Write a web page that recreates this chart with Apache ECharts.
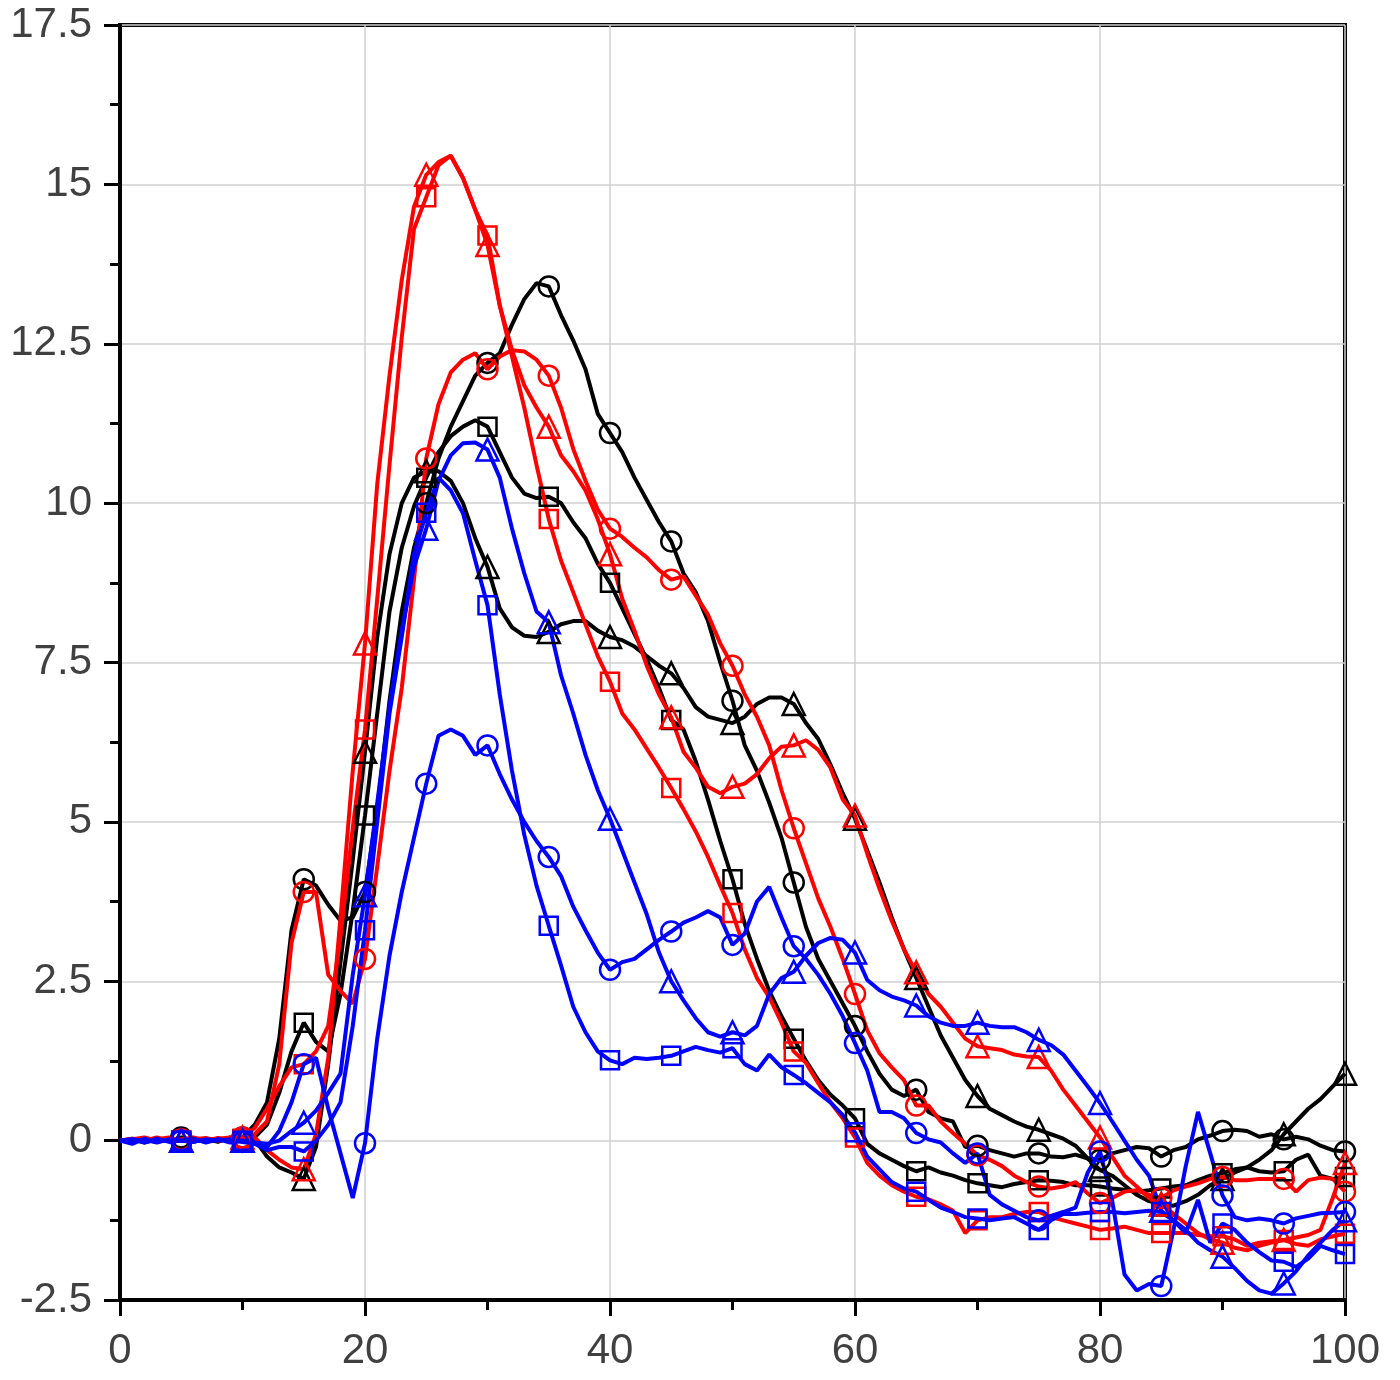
<!DOCTYPE html>
<html><head><meta charset="utf-8">
<script src="https://cdn.jsdelivr.net/npm/echarts@6/dist/echarts.min.js"></script>
<style>html,body{margin:0;padding:0;background:#fff}#c{width:1400px;height:1380px}</style>
</head><body><div id="c"></div>
<script>
// x positions (0..100, step 1) and marker spacing
const xValues = Array.from({length: 101}, (_, i) => i);
const markerStep = 5;

const blackCircle = [
  0, 0.02, -0.03, 0.02, 0, 0.05, 0, 0.03, -0.02, 0.05,
  0.05, 0.25, 0.6, 1.6, 3.3, 4.1, 4.0, 3.7, 3.45, 3.5,
  3.9, 5.2, 6.9, 8.3, 9.3, 10.0, 10.7, 11.2, 11.6, 12.0,
  12.2, 12.35, 12.8, 13.2, 13.45, 13.4, 12.95, 12.55, 12.1, 11.4,
  11.1, 10.8, 10.4, 10.05, 9.7, 9.4, 8.9, 8.6, 8.15, 7.5,
  6.9, 6.2, 5.8, 5.3, 4.75, 4.05, 3.35, 2.85, 2.5, 2.15,
  1.8, 1.4, 1.05, 0.8, 0.7, 0.8, 0.45, 0.35, 0.3, -0.1,
  -0.08, -0.15, -0.2, -0.25, -0.2, -0.2, -0.25, -0.26, -0.22, -0.28,
  -0.3, -0.2, -0.15, -0.1, -0.12, -0.25, -0.15, -0.1, 0.02, 0.08,
  0.15, 0.17, 0.15, 0.06, 0.1, 0.02, 0.06, 0.02, -0.08, -0.15, -0.17
];
const blackSquare = [
  0, 0, 0.03, -0.02, 0.02, 0, 0.02, 0, 0.03, 0,
  0.02, 0.05, 0.25, 0.75, 1.4, 1.85, 1.55, 1.4, 2.3, 3.6,
  5.1, 6.7, 8.3, 9.3, 9.95, 10.4, 10.8, 11.05, 11.2, 11.3,
  11.2, 10.8, 10.4, 10.15, 10.08, 10.1, 10.0, 9.7, 9.45, 9.05,
  8.75, 8.35, 7.95, 7.55, 7.1, 6.6, 6.45, 5.95, 5.35, 4.7,
  4.1, 3.4, 2.85, 2.35, 1.95, 1.6, 1.25, 0.95, 0.72, 0.55,
  0.35, -0.05, -0.2, -0.3, -0.4, -0.48, -0.42, -0.5, -0.55, -0.62,
  -0.67, -0.7, -0.73, -0.68, -0.65, -0.62, -0.63, -0.65, -0.7, -0.7,
  -0.72, -0.75, -0.77, -0.8, -0.78, -0.75, -0.72, -0.7, -0.62, -0.55,
  -0.51, -0.45, -0.42, -0.48, -0.5, -0.48, -0.3, -0.22, -0.55, -0.6, -0.57
];
const blackTriangle = [
  0, -0.02, 0.02, 0, 0.03, 0, -0.02, 0.02, 0, 0.02,
  0, 0.02, -0.25, -0.42, -0.5, -0.6, -0.1, 1.2, 2.8, 4.4,
  6.1, 7.9, 9.2, 10.0, 10.4, 10.5, 10.5, 10.35, 10.0, 9.45,
  9.0, 8.35, 8.05, 7.92, 7.9, 7.98, 8.1, 8.15, 8.15, 8.0,
  7.9, 7.85, 7.75, 7.6, 7.45, 7.33, 7.1, 6.8, 6.65, 6.6,
  6.55, 6.65, 6.85, 6.95, 6.95, 6.85, 6.55, 6.3, 5.9, 5.45,
  5.05, 4.55, 4.05, 3.5, 3.0, 2.55, 2.1, 1.65, 1.3, 0.95,
  0.7, 0.5, 0.4, 0.3, 0.22, 0.17, 0.1, 0.03, -0.08, -0.28,
  -0.46, -0.55, -0.7, -0.85, -0.95, -1.0, -1.02, -0.95, -0.85, -0.7,
  -0.6, -0.5, -0.42, -0.3, -0.15, 0.1, 0.3, 0.5, 0.65, 0.85, 1.05
];
const redCircle = [
  0, 0.03, 0, 0.05, 0, 0.02, 0.05, 0, 0.03, 0.05,
  0.05, 0.1, 0.3, 1.2, 3.1, 3.9, 3.9, 2.6, 2.35, 2.15,
  2.85, 4.3, 5.8, 7.1, 8.8, 10.7, 11.55, 12.05, 12.25, 12.35,
  12.1, 12.3, 12.4, 12.38, 12.25, 12.0, 11.5, 10.85, 10.35, 9.9,
  9.6, 9.47, 9.3, 9.15, 8.95, 8.8, 8.85, 8.55, 8.25, 7.8,
  7.45, 7.0, 6.65, 6.2, 5.5, 4.9, 4.35, 3.8, 3.35, 2.85,
  2.3, 1.73, 1.37, 1.15, 0.95, 0.55, 0.55, 0.3, 0.12, -0.05,
  -0.23, -0.3, -0.4, -0.55, -0.65, -0.72, -0.75, -0.72, -0.65, -0.83,
  -0.98, -0.9, -0.8, -0.78, -0.85, -0.9, -0.78, -0.72, -0.67, -0.6,
  -0.57, -0.62, -0.62, -0.6, -0.6, -0.6, -0.8, -0.62, -0.58, -0.6, -0.8
];
const redSquare = [
  0, 0.02, 0.05, 0, 0.03, 0, 0.02, 0.04, 0, 0.02,
  0.03, 0.2, 0.5, 0.85, 1.15, 1.2, 1.4, 1.8, 3.2, 4.9,
  6.45, 8.5, 10.6, 12.6, 14.3, 14.8, 15.3, 15.45, 15.1, 14.6,
  14.2, 13.1, 12.3, 11.5, 10.6, 9.75, 9.1, 8.6, 8.1, 7.6,
  7.2, 6.7, 6.45, 6.15, 5.85, 5.53, 5.2, 4.85, 4.45, 4.0,
  3.57, 3.0, 2.55, 2.25, 1.85, 1.4, 1.22, 0.9, 0.6, 0.35,
  0.05, -0.35, -0.55, -0.7, -0.8, -0.88, -0.92, -1.0, -1.1, -1.45,
  -1.25, -1.2, -1.2, -1.15, -1.12, -1.12, -1.2, -1.25, -1.3, -1.35,
  -1.4, -1.38, -1.35, -1.4, -1.45, -1.45, -1.45, -1.45, -1.48, -1.5,
  -1.5, -1.55, -1.65, -1.6, -1.58, -1.56, -1.62, -1.65, -1.55, -1.5, -1.46
];
const redTriangle = [
  0, 0.03, 0, 0.02, 0.05, 0, 0.03, 0, 0.04, 0,
  0.05, 0.05, -0.15, -0.3, -0.42, -0.45, 0.1, 1.3, 3.5, 5.8,
  7.8, 10.3, 12.0, 13.5, 14.65, 15.15, 15.35, 15.45, 15.1, 14.6,
  14.05, 13.1, 12.4, 11.85, 11.5, 11.2, 10.75, 10.5, 10.2, 9.75,
  9.2, 8.5, 8.0, 7.45, 7.0, 6.64, 6.1, 5.85, 5.55, 5.45,
  5.55, 5.6, 5.75, 6.0, 6.18, 6.2, 6.28, 6.13, 5.85, 5.35,
  5.1, 4.5, 3.95, 3.45, 3.0, 2.64, 2.3, 2.1, 1.85, 1.6,
  1.48, 1.45, 1.42, 1.35, 1.32, 1.31, 1.1, 0.8, 0.55, 0.3,
  0.05, -0.25, -0.55, -0.72, -0.9, -1.0, -1.15, -1.3, -1.45, -1.55,
  -1.6, -1.68, -1.72, -1.65, -1.6, -1.56, -1.52, -1.48, -1.4, -0.9, -0.35
];
const blueCircle = [
  0, -0.05, 0.03, -0.03, 0.02, 0, 0.03, -0.03, 0.02, 0,
  -0.02, -0.05, -0.1, 0.15, 0.6, 1.2, 1.3, 0.5, -0.2, -0.9,
  -0.04, 1.6, 2.9, 3.9, 4.75, 5.6, 6.35, 6.45, 6.35, 6.05,
  6.2, 5.75, 5.35, 5.0, 4.7, 4.45, 4.15, 3.67, 3.3, 2.95,
  2.68, 2.8, 2.85, 3.0, 3.15, 3.28, 3.42, 3.5, 3.6, 3.5,
  3.07, 3.25, 3.75, 3.98, 3.5, 3.05, 2.85, 2.6, 2.3, 1.95,
  1.53, 1.1, 0.45, 0.45, 0.35, 0.12, 0.02, -0.03, -0.2, -0.35,
  -0.2, -0.85, -1.0, -1.1, -1.2, -1.25, -1.18, -1.12, -1.05, -0.5,
  -0.17, -0.95, -2.1, -2.35, -2.25, -2.28, -1.4, -0.4, 0.45, -0.2,
  -0.86, -1.2, -1.25, -1.22, -1.25, -1.3, -1.22, -1.18, -1.14, -1.13, -1.12
];
const blueSquare = [
  0, 0.02, -0.03, 0.03, -0.02, 0, 0.02, -0.02, 0.02, -0.03,
  0, -0.05, -0.15, -0.1, -0.1, -0.17, 0.0, 0.25, 0.6, 1.8,
  3.3, 5.0, 6.7, 7.9, 9.2, 9.85, 10.4, 10.2, 9.84, 9.1,
  8.4, 7.0, 5.8, 4.8, 4.0, 3.37, 2.75, 2.1, 1.7, 1.4,
  1.26, 1.2, 1.3, 1.28, 1.3, 1.33, 1.4, 1.47, 1.42, 1.38,
  1.45, 1.2, 1.1, 1.35, 1.15, 1.03, 0.9, 0.75, 0.6, 0.4,
  0.13, -0.25, -0.45, -0.65, -0.75, -0.8, -0.93, -1.05, -1.12, -1.2,
  -1.22, -1.25, -1.22, -1.2, -1.3, -1.4, -1.25, -1.15, -1.15, -1.13,
  -1.12, -1.12, -1.14, -1.12, -1.1, -1.12, -1.25, -1.45, -0.93, -1.6,
  -1.3, -1.4, -1.6, -1.75, -1.88, -1.9, -1.98, -1.85, -1.65, -1.72, -1.78
];
const blueTriangle = [
  0, 0.02, 0, -0.02, 0.02, 0, -0.02, 0.02, 0, 0.02,
  0, -0.03, -0.05, 0.0, 0.15, 0.28, 0.47, 0.75, 1.05, 2.6,
  3.85, 5.3, 6.8, 8.0, 9.0, 9.6, 10.35, 10.75, 10.94, 10.95,
  10.84, 10.4, 9.6, 8.9, 8.3, 8.13, 7.3, 6.7, 6.05, 5.5,
  5.05, 4.55, 4.05, 3.55, 2.95, 2.5, 2.2, 1.92, 1.7, 1.63,
  1.7, 1.65, 1.8, 2.3, 2.55, 2.65, 2.9, 3.1, 3.18, 3.15,
  2.95, 2.52, 2.36, 2.26, 2.2, 2.12, 1.95, 1.85, 1.8, 1.8,
  1.85, 1.8, 1.78, 1.78, 1.7, 1.58, 1.5, 1.35, 1.1, 0.85,
  0.59, 0.3, 0.0, -0.3, -0.55, -1.1, -1.25, -1.4, -1.6, -1.72,
  -1.82, -2.0, -2.2, -2.35, -2.4, -2.24, -2.05, -1.8, -1.6, -1.4, -1.25
];

const seriesDefs = [
  {name: 'black circle',   values: blackCircle,   color: '#000000', symbol: 'circle',   size: 20},
  {name: 'black square',   values: blackSquare,   color: '#000000', symbol: 'rect',     size: 18},
  {name: 'black triangle', values: blackTriangle, color: '#000000', symbol: 'triangle', size: 22},
  {name: 'red circle',     values: redCircle,     color: '#ff0000', symbol: 'circle',   size: 20},
  {name: 'red square',     values: redSquare,     color: '#ff0000', symbol: 'rect',     size: 18},
  {name: 'red triangle',   values: redTriangle,   color: '#ff0000', symbol: 'triangle', size: 22},
  {name: 'blue circle',    values: blueCircle,    color: '#0000ff', symbol: 'circle',   size: 20},
  {name: 'blue square',    values: blueSquare,    color: '#0000ff', symbol: 'rect',     size: 18},
  {name: 'blue triangle',  values: blueTriangle,  color: '#0000ff', symbol: 'triangle', size: 22}
];

const labelStyle = {fontSize: 42, color: '#404040', fontFamily: 'Liberation Sans, Arial, sans-serif'};
const axisBlack = {color: '#000', width: 4};

const chart = echarts.init(document.getElementById('c'));
chart.setOption({
  animation: false,
  backgroundColor: '#ffffff',
  grid: {left: 120, right: 55, top: 25, bottom: 80, show: true, borderColor: '#000', borderWidth: 4, backgroundColor: 'transparent'},
  xAxis: {
    type: 'value', min: 0, max: 100, interval: 20,
    axisLine: {show: true, onZero: false, lineStyle: axisBlack},
    axisTick: {show: true, length: 16, lineStyle: {color: '#000', width: 3}},
    minorTick: {show: true, splitNumber: 2, length: 10, lineStyle: {color: '#000', width: 3}},
    splitLine: {show: true, lineStyle: {color: '#d0d0d0', width: 1.5}},
    axisLabel: Object.assign({margin: 30}, labelStyle)
  },
  yAxis: {
    type: 'value', min: -2.5, max: 17.5, interval: 2.5,
    axisLine: {show: true, onZero: false, lineStyle: axisBlack},
    axisTick: {show: true, length: 16, lineStyle: {color: '#000', width: 3}},
    minorTick: {show: true, splitNumber: 2, length: 10, lineStyle: {color: '#000', width: 3}},
    splitLine: {show: true, lineStyle: {color: '#d0d0d0', width: 1.5}},
    axisLabel: Object.assign({margin: 28}, labelStyle)
  },
  series: seriesDefs.map(d => ({
    type: 'line',
    name: d.name,
    data: xValues.map((x, i) => [x, d.values[i]]),
    symbol: v => (v[0] > 0 && v[0] % markerStep === 0) ? d.symbol : 'none',
    symbolSize: d.size,
    showSymbol: true,
    showAllSymbol: true,
    silent: true,
    lineStyle: {color: d.color, width: 4},
    itemStyle: {color: 'rgba(255,255,255,0)', borderColor: d.color, borderWidth: 2.5},
    emphasis: {disabled: true}
  }))
});
</script>
</body></html>
